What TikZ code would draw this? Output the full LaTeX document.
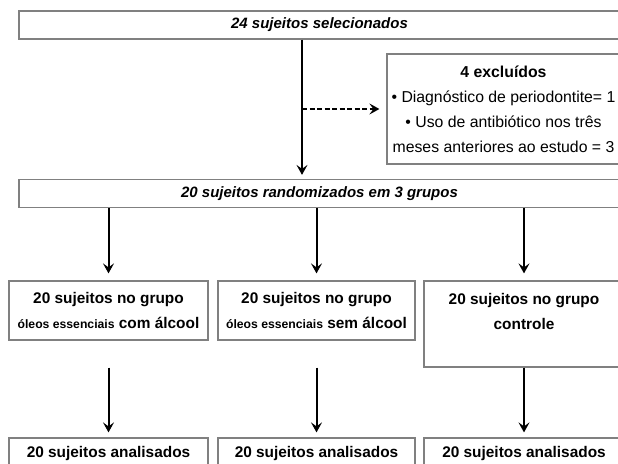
\documentclass[tikz,border=0pt]{standalone}
\usepackage{fontspec}
\setmainfont{Liberation Sans}
\usetikzlibrary{arrows.meta}
\newcommand{\oleos}{{\fontsize{12.2}{25}\selectfont óleos essenciais}}

\begin{document}
\begin{tikzpicture}[
        x=1pt, y=-1pt,
        box/.style={draw=black!50, line width=1.2pt, align=center, inner sep=0pt,
            font=\fontsize{15.4}{25}\selectfont\bfseries},
        wide/.style={box, minimum width=601pt, minimum height=28pt,
            font=\fontsize{15}{18}\selectfont\bfseries\itshape},
        exclbox/.style={box, minimum width=233pt, minimum height=110pt,
            font=\fontsize{15.8}{25}\selectfont},
        grp/.style={box, minimum height=59pt},
        res/.style={box, minimum height=32pt},
        flow/.style={->, line width=2pt},
        >={Stealth[length=10pt, width=11pt, inset=4pt]},
    ]
    \useasboundingbox (0,0) rectangle (618,463);
    \clip (0,0) rectangle (618,463);
    \node[wide]    (sel)  at (319.5, 25)    {24 sujeitos selecionados};
    \node[exclbox] (excl) at (503.5, 109)   {\textbf{4 excluídos}\\
        • Diagnóstico de periodontite= 1\\
        • Uso de antibiótico nos três\\
        meses anteriores ao estudo = 3};
    \node[wide]    (rand) at (319.5, 193.5) {20 sujeitos randomizados em 3 grupos};
    \node[grp, minimum width=199pt] (g1) at (108.5, 310.5) {20 sujeitos no grupo\\ \oleos{} com álcool};
    \node[grp, minimum width=197pt] (g2) at (316.5, 310.5) {20 sujeitos no grupo\\ \oleos{} sem álcool};
    \node[box, minimum width=200pt, minimum height=86pt] (g3) at (524, 324) {20 sujeitos no grupo\\ controle\\ \mbox{}};
    \node[res, minimum width=199pt] (a1) at (108.5, 454) {20 sujeitos analisados};
    \node[res, minimum width=197pt] (a2) at (316.5, 454) {20 sujeitos analisados};
    \node[res, minimum width=200pt] (a3) at (524, 454)   {20 sujeitos analisados};
    \coordinate (split) at (302, 109);
    \draw[flow, shorten >=4pt] (sel.south -| split) -- (rand.north -| split);
    \draw[flow, dash pattern=on 5pt off 2.5pt, shorten >=7pt] (split) -- (excl.west);
    \draw[flow, shorten >=7pt] (rand.south -| g1) -- (g1.north);
    \draw[flow, shorten >=7pt] (rand.south -| g2) -- (g2.north);
    \draw[flow, shorten >=7pt] (rand.south -| g3) -- (g3.north);
    \draw[flow, shorten >=5pt] (g1.south |- g3.south) -- (a1.north);
    \draw[flow, shorten >=5pt] (g2.south |- g3.south) -- (a2.north);
    \draw[flow, shorten >=5pt] (g3.south) -- (a3.north);
\end{tikzpicture}
\end{document}
